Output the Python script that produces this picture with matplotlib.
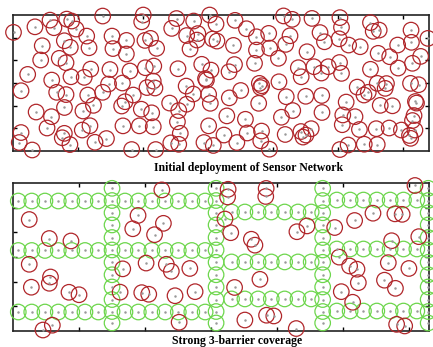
import matplotlib
matplotlib.use("Agg")
import matplotlib.pyplot as plt

# field coordinates (x: 0-320, y: 0-120)
# --- initial random deployment (top panel) ---
init_x = [69.0, 0.4, 16.9, 28.5, 31.5, 41.3, 45.2, 48.5, 56.7, 76.2,
          22.5, 39.5, 44.1, 58.5, 76.9, 21.3, 35.6, 40.8, 59.8, 74.6,
          11.3, 29.8, 44.6, 54.8, 73.5, 6.2, 33.6, 40.8, 57.5, 69.0,
          61.9, 39.6, 17.8, 29.6, 53.8, 6.2, 26.2, 39.5, 37.9, 53.3,
          59.2, 4.8, 43.8, 63.1, 71.9, 14.8,
          100.2, 99.0, 122.1, 125.8, 139.0, 151.3, 156.2, 87.3, 101.5, 105.8,
          110.5, 133.6, 142.2, 141.5, 136.2, 153.5, 156.9, 87.2, 90.0, 101.8,
          108.3, 126.9, 145.2, 152.3, 148.1, 148.8, 84.2, 107.9, 103.1, 109.2,
          133.2, 138.7, 150.5, 92.5, 86.2, 83.6, 120.5, 133.6, 151.8, 98.7,
          106.7, 127.5, 126.5, 84.6, 97.2, 107.9, 150.5, 128.7, 121.4, 127.5,
          146.9, 154.1, 91.3, 109.8,
          170.8, 179.6, 187.3, 196.7, 208.1, 214.8, 230.0, 169.6, 187.3, 197.5,
          209.8, 213.1, 236.2, 239.6, 204.2, 226.2, 185.8, 170.4, 166.2, 219.5,
          221.7, 231.5, 237.2, 189.5, 191.3, 190.4, 204.6, 175.2, 166.4, 210.2,
          225.2, 237.5, 189.0, 215.2, 237.7, 164.5, 178.8, 206.5, 162.3, 180.2,
          191.2, 190.6, 172.2, 209.4, 221.5, 223.1, 225.4, 229.4, 197.3,
          251.5, 252.7, 275.0, 277.1, 281.7, 250.9, 258.2, 267.1, 306.2, 306.5,
          295.9, 319.2, 280.9, 289.8, 313.6, 307.3, 296.3, 275.0, 251.2, 252.7,
          242.5, 264.8, 270.0, 273.3, 280.2, 287.3, 286.3, 305.8, 312.0, 256.3,
          282.5, 291.9, 309.6, 310.4, 308.5, 307.3, 253.7, 263.1, 253.3, 266.5,
          279.4, 289.4, 298.8, 305.0, 309.2, 305.9, 251.5, 257.8, 270.2, 280.2]
init_y = [119.1, 104.7, 109.6, 115.5, 108.8, 116.4, 114.7, 107.6, 101.4, 101.4,
          92.9, 97.3, 91.5, 91.1, 90.4, 80.3, 81.8, 77.9, 72.3, 71.9,
          67.6, 62.6, 65.5, 65.0, 59.1, 53.2, 51.8, 49.8, 49.4, 51.8,
          40.3, 38.4, 34.4, 30.3, 35.3, 16.3, 20.3, 15.6, 11.7, 18.5,
          22.3, 7.5, 5.7, 7.7, 11.0, 0.9,
          120.0, 114.0, 108.2, 116.9, 114.7, 120.0, 112.0, 97.6, 97.6, 99.4,
          90.6, 101.9, 103.6, 97.9, 90.0, 98.8, 97.0, 85.6, 70.6, 73.5,
          75.0, 72.6, 76.5, 71.4, 63.9, 62.6, 60.0, 61.7, 56.0, 55.6,
          57.3, 50.3, 50.0, 49.4, 43.5, 39.7, 42.3, 41.3, 42.1, 36.9,
          33.7, 35.7, 25.8, 22.2, 22.2, 21.4, 22.2, 15.6, 7.2, 5.9,
          7.5, 4.9, 1.3, 1.3,
          115.3, 107.9, 100.8, 103.8, 119.2, 116.2, 117.0, 93.2, 89.1, 90.8,
          94.1, 101.7, 104.5, 96.4, 81.8, 87.6, 77.4, 76.3, 69.9, 73.5,
          65.5, 74.4, 68.8, 59.7, 57.6, 56.0, 61.1, 53.4, 46.9, 47.9,
          48.3, 49.0, 42.1, 35.7, 34.0, 31.0, 28.0, 29.8, 14.1, 15.9,
          17.6, 9.0, 7.5, 14.6, 17.2, 12.3, 14.1, 19.7, 1.6,
          117.7, 109.2, 113.3, 105.6, 106.7, 99.0, 93.5, 92.0, 106.7, 95.9,
          93.5, 99.4, 86.2, 83.2, 83.5, 77.4, 73.2, 72.1, 78.1, 68.5,
          74.4, 56.4, 49.4, 51.8, 59.7, 59.5, 55.3, 59.7, 58.5, 43.2,
          40.3, 39.9, 43.7, 42.3, 31.3, 26.9, 31.8, 30.3, 23.2, 19.0,
          19.7, 20.3, 18.5, 13.7, 18.5, 11.2, 1.3, 5.3, 6.0, 5.7]

# --- 3-barrier coverage (bottom panel, x: 0-315) ---
free_x = [12.3, 27.5, 43.9, 12.3, 28.4, 27.5, 13.9, 42.4, 50.0, 22.7,
          29.8, 112.7, 94.7, 90.7, 113.9, 107.2, 83.1, 100.8, 116.1, 119.9,
          133.9, 81.1, 97.5, 102.8, 122.7, 137.9, 125.8, 162.9, 162.5, 191.7,
          191.4, 160.5, 164.9, 180.5, 183.2, 215.0, 222.6, 187.0, 167.8, 175.6,
          192.0, 197.5, 214.5, 304.4, 272.6, 289.2, 294.7, 258.7, 243.6, 307.3,
          286.7, 247.0, 254.9, 260.5, 284.2, 299.8, 261.5, 281.3, 289.6, 248.6,
          257.2, 290.5, 296.6]
free_y = [90.4, 75.0, 73.0, 54.1, 43.8, 38.7, 35.5, 31.4, 29.4, 0.8,
          4.7, 114.4, 93.7, 82.9, 87.3, 78.1, 50.4, 55.1, 54.1, 48.4,
          50.7, 31.5, 31.1, 29.8, 28.6, 31.9, 7.1, 114.9, 108.7, 115.6,
          109.1, 90.8, 79.7, 74.4, 69.6, 80.5, 85.2, 41.9, 35.3, 8.9,
          12.8, 12.2, 2.0, 118.0, 95.5, 95.0, 94.6, 89.6, 83.9, 76.5,
          73.2, 59.9, 52.7, 50.1, 55.4, 50.7, 39.2, 41.2, 34.6, 31.9,
          23.3, 5.4, 4.1]

# vertical barriers
col_x = [75.0, 153.8, 234.5, 314.4]
col_y = [115.7, 105.8, 95.9, 86.0, 75.8, 65.7, 55.7, 45.6, 35.7, 25.5, 15.8, 6.5]
# horizontal barriers, three sections
left_row_x = [4.0, 14.2, 24.2, 34.3, 44.5, 54.5, 64.6, 84.8, 94.9, 105.1,
              115.2, 125.2, 135.4, 145.5]
left_row_y = [105.4, 65.3, 15.4]
mid_row_x = [165.5, 175.6, 185.6, 195.6, 205.7, 215.8, 225.8]
mid_row_y = [96.5, 56.0, 26.0]
right_row_x = [245.2, 255.3, 265.4, 275.5, 285.6, 295.7, 305.8]
right_row_y = [106.2, 66.5, 16.2]

red = "#b0262a"
green = "#6dd64c"
ms = 125

fig = plt.figure(figsize=(4.33, 3.47), dpi=100)
ax1 = fig.add_axes([0.030, 0.5648, 0.9607, 0.3919])
ax2 = fig.add_axes([0.030, 0.0461, 0.9607, 0.4265])

ax1.scatter(init_x, init_y, s=ms, facecolors="none", edgecolors=red,
            linewidths=0.9, clip_on=False, zorder=3)
ax1.scatter(init_x, init_y, s=0.6, color="#999999", clip_on=False, zorder=3)
ax1.set_xlim(0, 320)
ax1.set_ylim(0, 120)

gx, gy = [], []
for cx in col_x:
    for cy in col_y:
        gx.append(cx)
        gy.append(cy)
for xs, ys in [(left_row_x, left_row_y), (mid_row_x, mid_row_y),
               (right_row_x, right_row_y)]:
    for ry in ys:
        for rx in xs:
            gx.append(rx)
            gy.append(ry)

ax2.scatter(gx, gy, s=ms, facecolors="none", edgecolors=green,
            linewidths=0.9, clip_on=False, zorder=3)
ax2.scatter(free_x, free_y, s=ms, facecolors="none", edgecolors=red,
            linewidths=0.9, clip_on=False, zorder=4)
ax2.scatter(gx + free_x, gy + free_y, s=0.6, color="#999999",
            clip_on=False, zorder=4)
ax2.set_xlim(0, 315)
ax2.set_ylim(0, 120)

for ax in (ax1, ax2):
    ax.set_xticks([50, 100, 150, 200, 250, 300])
    ax.set_yticks([20, 40, 60, 80, 100])
    ax.tick_params(direction="in", length=3, width=1, top=True, right=True,
                   labelbottom=False, labelleft=False)
    for sp in ax.spines.values():
        sp.set_linewidth(1.2)
        sp.set_color("#222222")

fig.text(0.575, 0.516, "Initial deployment of Sensor Network",
         ha="center", va="center", fontsize=8.5, fontweight="bold",
         family="Liberation Serif")
fig.text(0.547, 0.016, "Strong 3-barrier coverage",
         ha="center", va="center", fontsize=8.5, fontweight="bold",
         family="Liberation Serif")

fig.savefig("out.png", dpi=100)
